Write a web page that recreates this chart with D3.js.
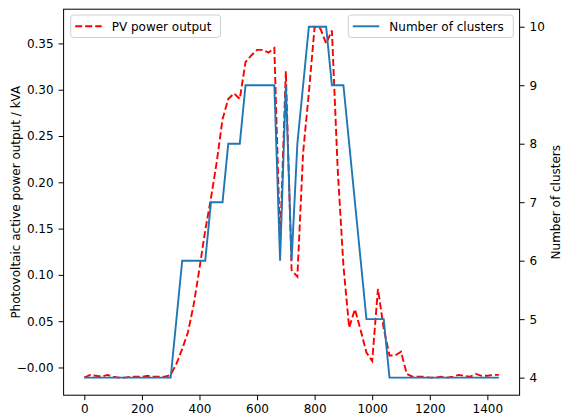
<!DOCTYPE html>
<html>
<head>
<meta charset="utf-8">
<script src="https://cdn.jsdelivr.net/npm/d3@7/dist/d3.min.js"></script>
<style>
  body { margin: 0; background: #fff; }
  svg text { font-family: "DejaVu Sans", sans-serif; fill: #000; }
</style>
</head>
<body>
<svg id="chart" width="562" height="417"></svg>
<script>
// Minute of day for each sample
const minutes = [
  0, 20, 40, 60, 80, 100, 120, 140, 160, 180, 200, 220, 240, 260, 280, 300,
  320, 340, 360, 380, 400, 420, 440, 460, 480, 500, 520, 540, 560, 580, 600,
  620, 640, 660, 680, 700, 720, 740, 760, 780, 800, 820, 840, 860, 880, 900,
  920, 940, 960, 980, 1000, 1020, 1040, 1060, 1080, 1100, 1120, 1140, 1160,
  1180, 1200, 1220, 1240, 1260, 1280, 1300, 1320, 1340, 1360, 1380, 1400,
  1420, 1440
];

// Photovoltaic active power output (kVA)
const pvOutput = [
  -0.011, -0.008, -0.009, -0.010, -0.008, -0.010, -0.011, -0.011, -0.010, -0.010,
  -0.010, -0.009, -0.010, -0.010, -0.010, -0.008,
  0.004, 0.020, 0.038, 0.068, 0.107, 0.148, 0.183, 0.222, 0.268, 0.290, 0.296,
  0.290, 0.330, 0.337, 0.343, 0.343, 0.340, 0.345, 0.135, 0.320, 0.105, 0.098,
  0.232, 0.297, 0.368, 0.366, 0.350, 0.364, 0.215, 0.110,
  0.043, 0.063, 0.040, 0.016, 0.007, 0.085, 0.042, 0.013, 0.013, 0.017, -0.007,
  -0.010, -0.010, -0.010, -0.011, -0.011, -0.010, -0.011, -0.010, -0.008, -0.009,
  -0.010, -0.007, -0.009, -0.009, -0.008, -0.008
];

// Number of clusters at each sample
const clusters = [
  4, 4, 4, 4, 4, 4, 4, 4, 4, 4, 4, 4, 4, 4, 4, 4,
  5, 6, 6, 6, 6, 6, 7, 7, 7, 8, 8, 8, 9, 9, 9, 9, 9, 9, 6, 9, 6, 8, 9, 10,
  10, 10, 10, 9, 9, 9, 8, 7, 6, 5, 5, 5, 5, 4, 4, 4, 4, 4, 4, 4, 4, 4, 4, 4,
  4, 4, 4, 4, 4, 4, 4, 4, 4
];

const xTicks = [0, 200, 400, 600, 800, 1000, 1200, 1400];
const pvTicks = [0, 0.05, 0.10, 0.15, 0.20, 0.25, 0.30, 0.35];
const pvTickLabels = ["\u22120.00", "0.05", "0.10", "0.15", "0.20", "0.25", "0.30", "0.35"];
const clusterTicks = [4, 5, 6, 7, 8, 9, 10];

const svg = d3.select("#chart");
const plot = { left: 63.6, right: 519.6, top: 9.2, bottom: 395.2 };

// Padded domains, 5% of the data span on each side
function padded(values) {
  const [lo, hi] = d3.extent(values);
  const m = (hi - lo) * 0.05;
  return [lo - m, hi + m];
}

const x = d3.scaleLinear().domain(padded(minutes)).range([plot.left, plot.right]);
const yPv = d3.scaleLinear().domain(padded(pvOutput)).range([plot.bottom, plot.top]);
const yCl = d3.scaleLinear().domain(padded(clusters)).range([plot.bottom, plot.top]);

const FONT = 12;

// Axes
const gx = svg.append("g")
  .attr("transform", `translate(0,${plot.bottom})`)
  .call(d3.axisBottom(x).tickValues(xTicks).tickFormat(d3.format("d")).tickSize(5).tickPadding(4));
const gyl = svg.append("g")
  .attr("transform", `translate(${plot.left},0)`)
  .call(d3.axisLeft(yPv).tickValues(pvTicks).tickFormat((d, i) => pvTickLabels[i]).tickSize(5).tickPadding(5));
const gyr = svg.append("g")
  .attr("transform", `translate(${plot.right},0)`)
  .call(d3.axisRight(yCl).tickValues(clusterTicks).tickFormat(d3.format("d")).tickSize(5).tickPadding(5));

[gx, gyl, gyr].forEach(g => {
  g.select(".domain").remove();
  g.selectAll(".tick line").attr("stroke", "#000").attr("stroke-width", 1);
  g.selectAll(".tick text").attr("font-size", FONT).attr("font-family", "DejaVu Sans, sans-serif");
});

// Frame
svg.append("rect")
  .attr("x", plot.left).attr("y", plot.top)
  .attr("width", plot.right - plot.left).attr("height", plot.bottom - plot.top)
  .attr("fill", "none").attr("stroke", "#000").attr("stroke-width", 1);

// Series
const pvLine = d3.line().x((d, i) => x(minutes[i])).y(d => yPv(d));
const clLine = d3.line().x((d, i) => x(minutes[i])).y(d => yCl(d));

svg.append("path")
  .datum(pvOutput)
  .attr("d", pvLine)
  .attr("fill", "none")
  .attr("stroke", "#ff0000")
  .attr("stroke-width", 1.9)
  .attr("stroke-dasharray", "7,3");

svg.append("path")
  .datum(clusters)
  .attr("d", clLine)
  .attr("fill", "none")
  .attr("stroke", "#1f77b4")
  .attr("stroke-width", 1.9);

// Axis titles
svg.append("text")
  .attr("transform", `translate(20,${(plot.top + plot.bottom) / 2}) rotate(-90)`)
  .attr("text-anchor", "middle")
  .attr("font-size", FONT)
  .text("Photovoltaic active power output / kVA");

svg.append("text")
  .attr("transform", `translate(560,${(plot.top + plot.bottom) / 2}) rotate(-90)`)
  .attr("text-anchor", "middle")
  .attr("font-size", FONT)
  .text("Number of clusters");

// Legends
function legend(x0, x1, label, color, dash) {
  const g = svg.append("g");
  g.append("rect")
    .attr("x", x0).attr("y", 15).attr("width", x1 - x0).attr("height", 22.5)
    .attr("rx", 3).attr("fill", "#fff").attr("fill-opacity", 0.8)
    .attr("stroke", "#d0d0d0").attr("stroke-width", 1);
  g.append("line")
    .attr("x1", x0 + 4.5).attr("x2", x0 + 31).attr("y1", 26.3).attr("y2", 26.3)
    .attr("stroke", color).attr("stroke-width", 1.9)
    .attr("stroke-dasharray", dash || null);
  g.append("text")
    .attr("x", x0 + 41).attr("y", 30.5)
    .attr("font-size", FONT)
    .text(label);
}
legend(70.7, 220.5, "PV power output", "#ff0000", "7,3");
legend(348.3, 513.3, "Number of clusters", "#1f77b4");
</script>
</body>
</html>
